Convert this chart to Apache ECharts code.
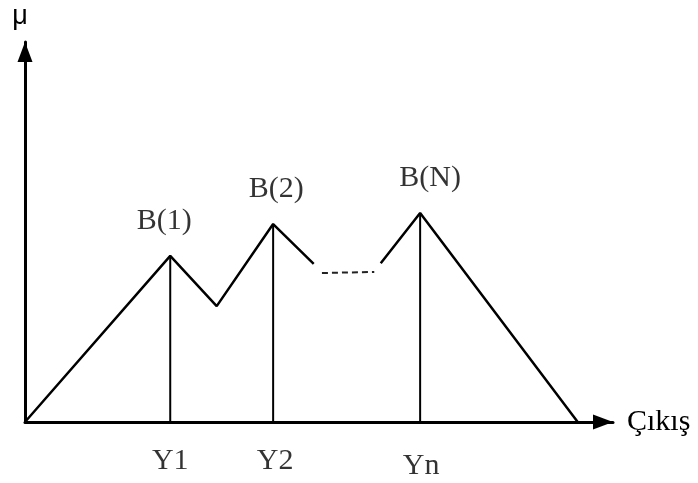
<!DOCTYPE html>
<html>
<head>
<meta charset="utf-8">
<script src="https://cdn.jsdelivr.net/npm/echarts@6/dist/echarts.min.js"></script>
<style>
  html, body { margin: 0; padding: 0; background: #fff; }
  #chart { width: 698px; height: 483px; }
</style>
</head>
<body>
<div id="chart"></div>
<script>
// membership function outline (x: output, y: mu)
const leftCurve = [[0, 0], [24.7, 0.437], [32.6, 0.305], [42.2, 0.521], [49.1, 0.416]];
const gapDash = [[50.5, 0.392], [59.4, 0.395]];
const rightCurve = [[60.5, 0.418], [67.2, 0.55], [94, 0]];
// peaks
const peakNames = ['B(1)', 'B(2)', 'B(N)'];
const outputNames = ['Y1', 'Y2', 'Yn'];
const peakX = [24.7, 42.2, 67.2];
const peakMu = [0.437, 0.521, 0.55];

const serif = '"Liberation Serif", "Times New Roman", serif';
const peakLabelOffset = [[-6, 0], [3, 0], [10, 0]];
const outLabelOffset = [[0, 0], [2, 0], [1, 5]];

let myChart = echarts.init(document.getElementById('chart'));

let series = [
  {
    type: 'line', data: leftCurve, symbol: 'none', silent: true,
    lineStyle: { color: '#000', width: 2.5 }
  },
  {
    type: 'line', data: gapDash, symbol: 'none', silent: true,
    lineStyle: { color: '#222', width: 2, type: [6, 4] }
  },
  {
    type: 'line', data: rightCurve, symbol: 'none', silent: true,
    lineStyle: { color: '#000', width: 2.5 }
  },
  {
    // peak labels
    type: 'scatter', symbolSize: 0, silent: true,
    data: peakX.map((x, i) => ({
      value: [x, peakMu[i]],
      label: { offset: peakLabelOffset[i] }
    })),
    label: {
      show: true, position: 'top', distance: 20,
      formatter: p => peakNames[p.dataIndex],
      color: '#000', fontFamily: serif, fontSize: 30
    }
  },
  {
    // output labels under the axis
    type: 'scatter', symbolSize: 0, silent: true,
    data: peakX.map((x, i) => ({
      value: [x, 0],
      label: { offset: outLabelOffset[i] }
    })),
    label: {
      show: true, position: 'bottom', distance: 24,
      formatter: p => outputNames[p.dataIndex],
      color: '#000', fontFamily: serif, fontSize: 30
    }
  }
];

// vertical lines from each peak down to the axis
peakX.forEach((x, i) => {
  series.push({
    type: 'line', data: [[x, 0], [x, peakMu[i]]], symbol: 'none', silent: true,
    lineStyle: { color: '#000', width: 2 }
  });
});

myChart.setOption({
  animation: false,
  grid: { left: 25, right: 85, top: 42, bottom: 61 },
  xAxis: {
    type: 'value', min: 0, max: 100,
    name: 'Çıkış', nameLocation: 'end', nameGap: 14,
    nameTextStyle: { color: '#000', fontFamily: serif, fontSize: 30, verticalAlign: 'middle' },
    axisLine: { lineStyle: { color: '#000', width: 3 }, symbol: ['none', 'triangle'], symbolSize: [15, 20], symbolOffset: [0, -10] },
    axisTick: { show: false }, axisLabel: { show: false }, splitLine: { show: false }
  },
  yAxis: {
    type: 'value', min: 0, max: 1,
    name: 'μ', nameLocation: 'end', nameGap: 12,
    nameTextStyle: { color: '#000', fontFamily: '"Liberation Sans", Arial, sans-serif', fontSize: 27, align: 'center', padding: [0, 10, 0, 0] },
    axisLine: { lineStyle: { color: '#000', width: 3 }, symbol: ['none', 'triangle'], symbolSize: [15, 20], symbolOffset: [0, -10] },
    axisTick: { show: false }, axisLabel: { show: false }, splitLine: { show: false }
  },
  series: series
});
</script>
</body>
</html>
